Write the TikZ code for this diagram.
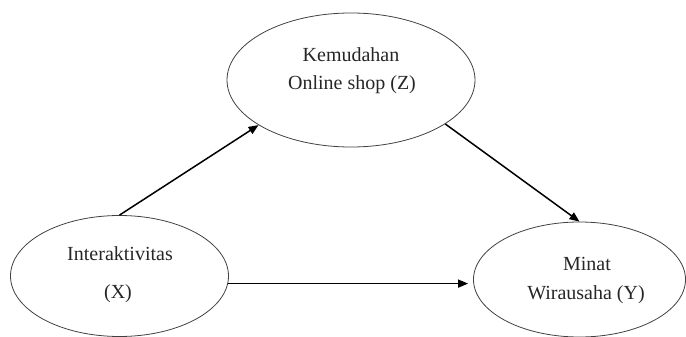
\documentclass[tikz,border=0pt]{standalone}
\usepackage{fontspec}
\setmainfont{Liberation Serif}
\usetikzlibrary{shapes.geometric,arrows.meta}
\tikzset{
  varell/.style={ellipse, draw=black!75, line width=0.8pt, inner sep=0pt},
  lbl/.style={anchor=base, inner sep=0pt, text=black!85, font=\fontsize{20}{24}\selectfont},
  arr/.style={line width=1.5pt, -{Triangle[length=10pt,width=8pt]}}
}
\begin{document}
\begin{tikzpicture}[x=1pt,y=-1pt]
\useasboundingbox (0,0) rectangle (686,337);
% ellipses
\node[varell, minimum width=248pt, minimum height=134pt] (z) at (351,80) {};
\node[varell, minimum width=218pt, minimum height=121pt] (x) at (119.5,276) {};
\node[varell, minimum width=212pt, minimum height=115pt] (y) at (579.5,279.5) {};
% labels
\node[lbl] (z1) at (351,62) {Kemudahan};
\node[lbl] (z2) at (352,90) {Online shop (Z)};
\node[lbl] (x1) at (120,260) {Interaktivitas};
\node[lbl] (x2) at (118,298) {(X)};
\node[lbl] (y1) at (587,270) {Minat};
\node[lbl] (y2) at (586,299) {Wirausaha (Y)};
% arrows
\draw[arr] (x.north) -- (z.206.6);
\draw[arr] (z.-25) -- (y.north);
\draw[arr, shorten >=5pt] (x.-4) -- (x.-4 -| y.west);
\end{tikzpicture}
\end{document}
